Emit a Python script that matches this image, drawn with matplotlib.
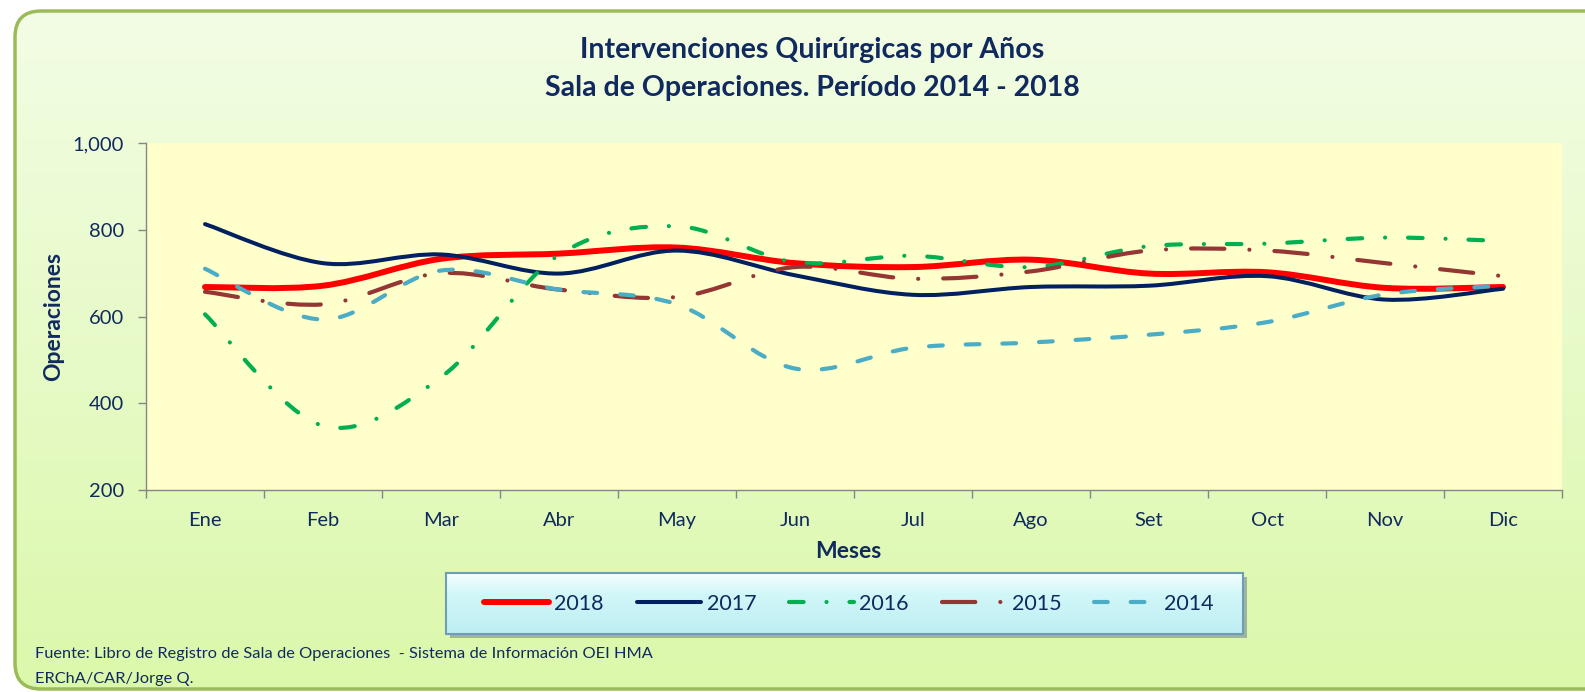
import numpy as np
import matplotlib
matplotlib.use('Agg')
import matplotlib.pyplot as plt
from matplotlib.path import Path
from matplotlib.patches import PathPatch, FancyBboxPatch, Rectangle
from matplotlib.lines import Line2D
from matplotlib.transforms import IdentityTransform
from matplotlib.ticker import FuncFormatter, FixedLocator

plt.rcParams['font.family'] = ['Lato', 'DejaVu Sans']

# datos
meses = ['Ene', 'Feb', 'Mar', 'Abr', 'May', 'Jun', 'Jul', 'Ago', 'Set', 'Oct', 'Nov', 'Dic']
ops_2018 = [668, 671, 733, 745, 759, 723, 714, 731, 699, 702, 666, 668]
ops_2017 = [813, 723, 743, 699, 752, 695, 650, 668, 671, 693, 639, 664]
ops_2016 = [605, 348, 460, 742, 808, 725, 740, 714, 762, 768, 782, 774]
ops_2015 = [657, 628, 700, 662, 645, 714, 687, 704, 752, 752, 723, 693]
ops_2014 = [710, 593, 706, 662, 628, 480, 528, 540, 558, 587, 651, 671]
anios = ['2018', '2017', '2016', '2015', '2014']

azul_txt = '#112A5E'
W, H = 1585, 692


def curva_suave(valores):
    # trazo suavizado estilo Excel (bezier entre puntos)
    pts = np.column_stack([np.arange(len(valores)), valores]).astype(float)
    n = len(pts)
    verts = [pts[0]]
    codes = [Path.MOVETO]
    for i in range(n - 1):
        p0 = pts[i - 1] if i > 0 else pts[i]
        p1, p2 = pts[i], pts[i + 1]
        p3 = pts[i + 2] if i + 2 < n else pts[i + 1]
        verts += [p1 + (p2 - p0) / 6, p2 - (p3 - p1) / 6, p2]
        codes += [Path.CURVE4] * 3
    return Path(verts, codes)


fig = plt.figure(figsize=(15.85, 6.92), dpi=100)

# fondo con borde redondeado y degradado
ax_bg = fig.add_axes([0, 0, 1, 1], zorder=-10)
ax_bg.axis('off')
borde = FancyBboxPatch((15, 3), 1620, 678, boxstyle='round,pad=0,rounding_size=26',
                       transform=IdentityTransform(), facecolor='none',
                       edgecolor='#9BBB59', linewidth=2.5, zorder=5)
grad = np.linspace(0, 1, 256).reshape(-1, 1)
cmap = matplotlib.colors.LinearSegmentedColormap.from_list('fondo', ['#F3FDE6', '#DBF8AA'])
img = ax_bg.imshow(grad, extent=[0, 1, 0, 1], aspect='auto', cmap=cmap, origin='upper',
                   transform=fig.transFigure)
img.set_clip_path(borde)
fig.add_artist(borde)

# caja de la leyenda con sombra y degradado
lx, ly, lw_, lh = 446, H - 634, 797, 61
fig.add_artist(Rectangle((lx + 4, ly - 4), lw_, lh, transform=IdentityTransform(),
                         facecolor='#8FA59A', edgecolor='none', alpha=0.8, zorder=1))
ax_leg = fig.add_axes([lx / W, ly / H, lw_ / W, lh / H], zorder=2)
cmap_leg = matplotlib.colors.LinearSegmentedColormap.from_list(
    'leyenda', [(0, '#F6FEFE'), (0.35, '#D2F7F9'), (1, '#BDEEF2')])
ax_leg.imshow(grad, extent=[0, 1, 0, 1], aspect='auto', cmap=cmap_leg, origin='upper')
ax_leg.set_xticks([])
ax_leg.set_yticks([])
for s in ax_leg.spines.values():
    s.set_color('#6F9DB3')
    s.set_linewidth(1.5)

ax = fig.add_axes([146 / W, 1 - 490 / H, 1416 / W, 347 / H])
ax.set_facecolor('#FFFFCC')

estilos = [
    (ops_2018, '#FF0000', 4.3, '-'),
    (ops_2017, '#002060', 2.9, '-'),
    (ops_2016, '#00B050', 3.0, (0, (3.5, 5.5, 0.01, 5.5))),
    (ops_2015, '#943634', 3.0, (0, (8, 6, 0.01, 6))),
    (ops_2014, '#4BACC6', 3.0, (0, (3.3, 5.5))),
]

handles = []
for k, (vals, color, lw, ls) in enumerate(estilos):
    patch = PathPatch(curva_suave(vals), facecolor='none', edgecolor=color, linewidth=lw,
                      linestyle=ls, capstyle='round', joinstyle='round', zorder=3 + k)
    ax.add_patch(patch)
    handles.append(Line2D([], [], color=color, linewidth=lw, linestyle=ls,
                          solid_capstyle='round', dash_capstyle='round'))

ax.set_xlim(-0.5, 11.5)
ax.set_ylim(200, 1000)
ax.set_yticks([200, 400, 600, 800, 1000])
ax.yaxis.set_major_formatter(FuncFormatter(lambda v, p: f'{v:,.0f}'))
ax.set_xticks(range(len(meses)))
ax.set_xticklabels(meses)
ax.xaxis.set_minor_locator(FixedLocator(np.arange(-0.5, 12, 1)))
ax.tick_params(axis='x', which='major', length=0, pad=16, labelsize=14.5, labelcolor=azul_txt)
ax.tick_params(axis='x', which='minor', length=6, width=1, color='#868686')
ax.tick_params(axis='y', length=6, width=1, color='#868686', pad=10, labelsize=14.5,
               labelcolor=azul_txt)

for s in ['top', 'right']:
    ax.spines[s].set_visible(False)
for s in ['left', 'bottom']:
    ax.spines[s].set_color('#868686')
    ax.spines[s].set_linewidth(1)

ax.set_xlabel('Meses', fontsize=16.5, fontweight='bold', color=azul_txt)
ax.xaxis.set_label_coords(0.496, -0.147)
ax.set_ylabel('Operaciones', fontsize=16.5, fontweight='bold', color=azul_txt)
ax.yaxis.set_label_coords(-0.058, 0.5)

fig.text(812 / W, 1 - 69 / H,
         'Intervenciones Quirúrgicas por Años\nSala de Operaciones. Período 2014 - 2018',
         ha='center', va='center', fontsize=20.5, fontweight='bold', color=azul_txt,
         linespacing=1.53)

leg = fig.legend(handles, anios, ncol=5, loc='center', mode='expand', borderaxespad=0,
                 bbox_to_anchor=(480 / W, ly / H, 738 / W, lh / H),
                 fontsize=15.5, handlelength=3.0, handletextpad=0.25, columnspacing=1.8,
                 borderpad=0.2, frameon=False)
for t in leg.get_texts():
    t.set_color(azul_txt)

fig.text(35 / W, 1 - 654 / H,
         'Fuente: Libro de Registro de Sala de Operaciones  - Sistema de Información OEI HMA',
         ha='left', va='center', fontsize=11.8, color=azul_txt)
fig.text(35 / W, 1 - 679 / H, 'ERChA/CAR/Jorge Q.',
         ha='left', va='center', fontsize=11.8, color=azul_txt)

fig.savefig('out.png', dpi=100)
